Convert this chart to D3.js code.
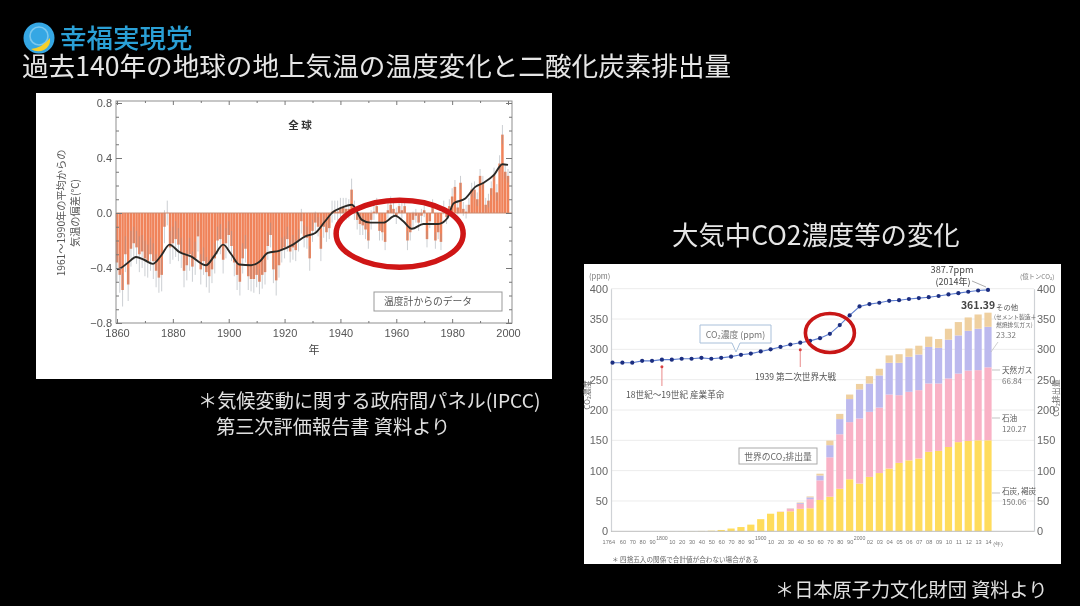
<!DOCTYPE html>
<html lang="ja">
<head>
<meta charset="utf-8">
<title>過去140年の地球の地上気温の温度変化と二酸化炭素排出量</title>
<script src="https://cdn.jsdelivr.net/npm/d3@7"></script>
<style>
html, body { margin: 0; padding: 0; background: #000; overflow: hidden; }
svg { display: block; }
text { font-family: "Noto Sans CJK JP", "Noto Sans", sans-serif; }
.num text, text.num { font-family: "Liberation Sans", Arial, sans-serif; }
</style>
</head>
<body>
<div id="chart"></div>
<script>
// left chart: annual global temperature anomaly, 1860-2000
const tempYears = d3.range(1860, 2001);
const tempValues = [
  -0.36, -0.45, -0.56, -0.30, -0.52, -0.26, -0.22, -0.25, -0.30, -0.28,
  -0.33, -0.35, -0.30, -0.35, -0.42, -0.47, -0.45, -0.10, 0.00, -0.25,
  -0.22, -0.19, -0.23, -0.29, -0.42, -0.38, -0.30, -0.39, -0.33, -0.17,
  -0.41, -0.35, -0.43, -0.46, -0.41, -0.33, -0.20, -0.19, -0.34, -0.22,
  -0.16, -0.24, -0.36, -0.45, -0.50, -0.33, -0.26, -0.46, -0.48, -0.48,
  -0.45, -0.50, -0.45, -0.43, -0.24, -0.16, -0.41, -0.49, -0.38, -0.27,
  -0.25, -0.19, -0.28, -0.25, -0.27, -0.20, -0.06, -0.17, -0.18, -0.33,
  -0.13, -0.07, -0.10, -0.26, -0.10, -0.14, -0.11, 0.01, 0.02, 0.01,
  0.03, 0.04, 0.03, 0.03, 0.17, 0.02, -0.05, -0.08, -0.09, -0.12,
  -0.20, -0.05, 0.01, 0.05, -0.13, -0.14, -0.21, 0.02, 0.06, 0.03,
  -0.02, 0.05, 0.02, 0.05, -0.20, -0.14, -0.05, -0.02, -0.07, -0.02,
  0.02, -0.19, -0.06, 0.05, -0.20, -0.14, -0.21, 0.04, -0.03, 0.05,
  0.12, 0.19, 0.04, 0.22, 0.03, 0.01, 0.06, 0.17, 0.17, 0.10,
  0.27, 0.22, 0.06, 0.09, 0.18, 0.28, 0.15, 0.36, 0.57, 0.30,
  0.27
];
const tempErrors = [
  0.14, 0.13, 0.12, 0.13, 0.12, 0.13, 0.12, 0.12, 0.13, 0.12,
  0.13, 0.12, 0.12, 0.13, 0.12, 0.11, 0.12, 0.12, 0.09, 0.12,
  0.12, 0.13, 0.12, 0.11, 0.12, 0.11, 0.12, 0.11, 0.12, 0.11,
  0.11, 0.10, 0.11, 0.12, 0.10, 0.11, 0.10, 0.11, 0.10, 0.11,
  0.10, 0.11, 0.10, 0.11, 0.10, 0.11, 0.10, 0.10, 0.09, 0.10,
  0.09, 0.09, 0.10, 0.09, 0.10, 0.09, 0.10, 0.11, 0.09, 0.09,
  0.08, 0.09, 0.08, 0.09, 0.08, 0.08, 0.09, 0.08, 0.08, 0.09,
  0.08, 0.08, 0.07, 0.09, 0.08, 0.07, 0.08, 0.08, 0.07, 0.08,
  0.08, 0.07, 0.08, 0.07, 0.08, 0.07, 0.07, 0.08, 0.07, 0.07,
  0.06, 0.07, 0.06, 0.06, 0.07, 0.06, 0.06, 0.06, 0.06, 0.06,
  0.06, 0.05, 0.06, 0.05, 0.07, 0.06, 0.06, 0.05, 0.06, 0.05,
  0.05, 0.06, 0.05, 0.05, 0.06, 0.05, 0.06, 0.05, 0.05, 0.05,
  0.06, 0.05, 0.05, 0.05, 0.05, 0.05, 0.05, 0.05, 0.06, 0.05,
  0.05, 0.05, 0.05, 0.05, 0.05, 0.05, 0.06, 0.06, 0.07, 0.05,
  0.05
];
// smoothed curve
const smoothYears = [1860, 1861.4, 1864, 1866.8, 1869.7, 1872.8, 1875.8, 1878.8, 1882.4, 1886.5,
  1891.9, 1894.9, 1898, 1900.9, 1903.8, 1908, 1911, 1914, 1918, 1923, 1927.4, 1931, 1934.5, 1937.5,
  1940, 1944.1, 1947.7, 1950.7, 1955.4, 1959.6, 1962.5, 1965.6, 1969.7, 1975, 1978.2, 1980.5,
  1984.7, 1988.3, 1991.3, 1994.9, 1998, 2000];
const smoothValues = [-0.41, -0.40, -0.36, -0.32, -0.34, -0.37, -0.31, -0.23, -0.285, -0.315,
  -0.38, -0.31, -0.23, -0.30, -0.375, -0.38, -0.355, -0.29, -0.275, -0.23, -0.17, -0.145, -0.06, 0.01,
  0.035, 0.06, -0.05, -0.07, -0.07, -0.02, -0.06, -0.115, -0.08, -0.08, -0.04, 0.07,
  0.105, 0.19, 0.22, 0.275, 0.355, 0.35];
const tempMajorY = [0.8, 0.4, 0, -0.4, -0.8];
const tempMinorY = [0.7, 0.6, 0.5, 0.3, 0.2, 0.1, -0.1, -0.2, -0.3, -0.5, -0.6, -0.7];
const tempMajorX = [1860, 1880, 1900, 1920, 1940, 1960, 1980, 2000];
const tempMinorX = [1870, 1890, 1910, 1930, 1950, 1970, 1990];

// right chart: CO2 concentration and world emissions
const co2Labels = ["1764", "60", "70", "80", "90", "", "10", "20", "30", "40", "50", "60", "70", "80", "90",
  "", "10", "20", "30", "40", "50", "60", "70", "80", "90",
  "", "02", "03", "04", "05", "06", "07", "08", "09", "10", "11", "12", "13", "14"];
const co2Centuries = [{i: 5, label: "1800"}, {i: 15, label: "1900"}, {i: 25, label: "2000"}];
const co2Ppm = [278, 278, 278, 281, 281, 283, 283, 284.5, 284.5, 286, 284.5, 286, 288, 291, 293, 296.5, 300, 304, 308, 311,
  314, 318.5, 325.6, 340, 356, 370.7, 374.6, 376.8, 380, 381, 383, 384.5, 386, 388, 390.5, 392.7, 395, 397, 398];
const coal = [0, 0, 0, 0, 0, 0.1, 0.2, 0.3, 0.4, 0.6, 1, 2.2, 4.6, 7, 11, 20, 29, 32, 33, 37, 38, 51.7, 57, 70, 85.8,
  78.7, 89.7, 96, 103.4, 112.8, 117, 120, 131, 132.6, 139, 147, 149, 150, 150.06];
const oil = [0, 0, 0, 0, 0, 0, 0, 0, 0, 0, 0, 0, 0, 0, 0, 0, 0, 0.5, 4, 8, 15, 32.3, 65, 90, 94.2,
  107.3, 107.3, 108, 122.1, 111.6, 113, 112.7, 112.7, 111.1, 113, 113, 116, 115.7, 120.27];
const gas = [0, 0, 0, 0, 0, 0, 0, 0, 0, 0, 0, 0, 0, 0, 0, 0, 0, 0, 0.5, 1.5, 3, 8, 20, 25, 38,
  48, 46.7, 53, 52.3, 53.4, 57.7, 58.8, 60.3, 58.8, 64, 63, 65.6, 68.3, 66.84];
const other = [0, 0, 0, 0, 0, 0, 0, 0, 0, 0, 0, 0, 0, 0, 0, 0, 0, 0, 0.5, 1, 1.5, 3, 7.6, 8.6, 7.5,
  9, 12.1, 11, 12.2, 14.2, 13.7, 14.5, 17, 14.5, 18, 22, 22, 23.5, 23.32];
const co2Ticks = [0, 50, 100, 150, 200, 250, 300, 350, 400];
const sourceKeys = ["coal", "oil", "gas", "other"];
const sourceColors = ["#ffdc5c", "#f9b2c6", "#bcb9ee", "#efd0a0"];

const W = 1080, H = 606;
const svg = d3.select("#chart").append("svg")
    .attr("width", W)
    .attr("height", H)
    .attr("viewBox", `0 0 ${W} ${H}`);

const defs = svg.append("defs");
defs.append("filter").attr("id", "soft")
    .attr("filterUnits", "userSpaceOnUse")
    .attr("x", 0).attr("y", 0).attr("width", W).attr("height", H)
  .append("feGaussianBlur").attr("stdDeviation", 0.7);
defs.append("filter").attr("id", "softTitle")
    .attr("filterUnits", "userSpaceOnUse")
    .attr("x", 0).attr("y", 0).attr("width", W).attr("height", H)
  .append("feGaussianBlur").attr("stdDeviation", 0.35);

svg.append("rect").attr("width", W).attr("height", H).attr("fill", "#000");

// heading, logo, captions
const head = svg.append("g").attr("filter", "url(#softTitle)");
head.append("circle").attr("cx", 39).attr("cy", 38).attr("r", 15.5).attr("fill", "#35a7e4");
head.append("circle").attr("cx", 39).attr("cy", 36).attr("r", 9).attr("fill", "none").attr("stroke", "#7cc8ee").attr("stroke-width", 1.6);
head.append("path").attr("d", "M31 49 Q42 48 50 38 Q51 46 44 50 Q37 53 31 49Z").attr("fill", "#f5cf2a");
head.append("text").attr("x", 60).attr("y", 48).attr("font-size", 26.5).attr("font-weight", 500)
    .attr("fill", "#2ba0d6").text("幸福実現党");
head.append("text").attr("x", 22).attr("y", 76).attr("font-size", 26.6).attr("fill", "#e6e6e6")
    .text("過去140年の地球の地上気温の温度変化と二酸化炭素排出量");
head.append("text").attr("x", 672).attr("y", 245).attr("font-size", 26.4).attr("fill", "#e6e6e6")
    .text("大気中CO2濃度等の変化");
const captions = [
  {x: 198, y: 408, t: "＊気候変動に関する政府間パネル(IPCC)"},
  {x: 216, y: 434, t: "第三次評価報告書 資料より"},
  {x: 775, y: 597, t: "＊日本原子力文化財団 資料より"}
];
captions.forEach(c => {
  head.append("text").attr("x", c.x).attr("y", c.y).attr("font-size", 19.2).attr("fill", "#e0e0e0").text(c.t);
});

// ---- left panel ----
const left = svg.append("g").attr("filter", "url(#soft)");
left.append("rect").attr("x", 36).attr("y", 93).attr("width", 516).attr("height", 286).attr("fill", "#fff");

const xT = d3.scaleLinear().domain([1860, 2000]).range([117, 508]);
const yT = d3.scaleLinear().domain([-0.8, 0.8]).range([323, 103]);
const barW = 2.5;

left.selectAll(".tbar").data(tempYears).join("rect")
    .attr("x", d => xT(d) - barW / 2)
    .attr("width", barW)
    .attr("y", (d, i) => yT(Math.max(0, tempValues[i])))
    .attr("height", (d, i) => Math.abs(yT(tempValues[i]) - yT(0)))
    .attr("fill", "#f0835a");

left.selectAll(".terr").data(tempYears).join("line")
    .attr("x1", d => xT(d)).attr("x2", d => xT(d))
    .attr("y1", (d, i) => yT(tempValues[i] - tempErrors[i]))
    .attr("y2", (d, i) => yT(tempValues[i] + tempErrors[i]))
    .attr("stroke", "#8d969e").attr("stroke-width", 0.7).attr("stroke-opacity", 0.65);

left.append("line")
    .attr("x1", xT.range()[0] - 1).attr("x2", 512)
    .attr("y1", yT(0)).attr("y2", yT(0))
    .attr("stroke", "#c98a70").attr("stroke-width", 1);

const smoothLine = d3.line()
    .x(d => xT(d[0]))
    .y(d => yT(d[1]))
    .curve(d3.curveMonotoneX);
left.append("path")
    .datum(smoothYears.map((y, i) => [y, smoothValues[i]]))
    .attr("d", smoothLine)
    .attr("fill", "none").attr("stroke", "#2c2926").attr("stroke-width", 1.9);

// frame and ticks
left.append("rect").attr("x", 116).attr("y", 101).attr("width", 396).attr("height", 222)
    .attr("fill", "none").attr("stroke", "#8f8f8f").attr("stroke-width", 1);

function tempAxis(gen, tx, ty, values, size, fmt) {
  const a = left.append("g").attr("class", "num").attr("transform", `translate(${tx},${ty})`)
      .call(gen.tickValues(values).tickSizeOuter(0).tickSizeInner(size).tickFormat(fmt));
  a.select(".domain").remove();
  a.selectAll("line").attr("stroke", "#777");
  return a;
}
const noLabel = () => "";
const bottomMajor = tempAxis(d3.axisBottom(xT).tickPadding(8), 0, 323, tempMajorX, -4, d3.format("d"));
bottomMajor.selectAll("text").attr("font-size", 11).attr("fill", "#555").attr("dy", "0.5em");
tempAxis(d3.axisBottom(xT), 0, 323, tempMinorX, -2, noLabel);
tempAxis(d3.axisTop(xT), 0, 101, tempMajorX, -4, noLabel);
tempAxis(d3.axisTop(xT), 0, 101, tempMinorX, -2, noLabel);
const leftMajor = tempAxis(d3.axisLeft(yT).tickPadding(4), 116, 0, tempMajorY, -6, d3.format(".1f"));
leftMajor.selectAll("text").attr("font-size", 11).attr("fill", "#555");
tempAxis(d3.axisLeft(yT), 116, 0, tempMinorY, -3, noLabel);
tempAxis(d3.axisRight(yT), 512, 0, tempMajorY, -6, noLabel);
tempAxis(d3.axisRight(yT), 512, 0, tempMinorY, -3, noLabel);

left.append("text").attr("x", 314).attr("y", 354).attr("text-anchor", "middle")
    .attr("font-size", 11).attr("fill", "#444").text("年");
left.append("text").attr("x", 300).attr("y", 129).attr("text-anchor", "middle")
    .attr("font-size", 10.5).attr("font-weight", 700).attr("fill", "#333").text("全  球");
left.append("text").attr("transform", "translate(65,213) rotate(-90)").attr("text-anchor", "middle")
    .attr("font-size", 10.2).attr("fill", "#555").text("1961～1990年の平均からの");
left.append("text").attr("transform", "translate(79,213) rotate(-90)").attr("text-anchor", "middle")
    .attr("font-size", 10.2).attr("fill", "#555").text("気温の偏差(℃)");
left.append("rect").attr("x", 374).attr("y", 292).attr("width", 128).attr("height", 19)
    .attr("fill", "#fff").attr("stroke", "#999").attr("stroke-width", 1);
left.append("text").attr("x", 384).attr("y", 305).attr("font-size", 9.8).attr("fill", "#555").text("温度計からのデータ");

left.append("ellipse")
    .attr("cx", xT(1961.2)).attr("cy", yT(-0.15))
    .attr("rx", 63.5).attr("ry", 33.5)
    .attr("fill", "none").attr("stroke", "#cf1212").attr("stroke-width", 5.5);

// ---- right panel ----
const right = svg.append("g").attr("filter", "url(#soft)");
right.append("rect").attr("x", 584).attr("y", 264).attr("width", 477).attr("height", 300).attr("fill", "#fff");

const xC = d3.scalePoint().domain(d3.range(co2Labels.length)).range([612.5, 988]);
const yC = d3.scaleLinear().domain([0, 400]).range([531.3, 288.7]);

right.selectAll(".grid").data(co2Ticks.slice(1)).join("line")
    .attr("x1", 611).attr("x2", 1034)
    .attr("y1", d => yC(d)).attr("y2", d => yC(d))
    .attr("stroke", "#ececec").attr("stroke-width", 1);

const rows = co2Labels.map((l, i) => ({i: i, coal: coal[i], oil: oil[i], gas: gas[i], other: other[i]}));
const stacked = d3.stack().keys(sourceKeys)(rows);
const colW = 7.2;
right.selectAll(".layer").data(stacked).join("g")
    .attr("fill", (d, i) => sourceColors[i])
  .selectAll("rect").data(d => d).join("rect")
    .attr("x", d => xC(d.data.i) - colW / 2)
    .attr("width", colW)
    .attr("y", d => yC(d[1]))
    .attr("height", d => yC(d[0]) - yC(d[1]));

// axes
const axL = right.append("g").attr("class", "num").attr("transform", "translate(611,0)")
    .call(d3.axisLeft(yC).tickValues(co2Ticks).tickSize(0).tickPadding(3));
const axR = right.append("g").attr("class", "num").attr("transform", "translate(1034,0)")
    .call(d3.axisRight(yC).tickValues(co2Ticks).tickSize(0).tickPadding(3));
[axL, axR].forEach(a => {
  a.select(".domain").attr("stroke", "#cfd2d6").attr("stroke-width", 1.2);
  a.selectAll("text").attr("font-size", 11).attr("fill", "#666");
});
right.append("line").attr("x1", 611).attr("x2", 1034).attr("y1", yC(0)).attr("y2", yC(0))
    .attr("stroke", "#bdbdbd").attr("stroke-width", 1);

const axB = right.append("g").attr("class", "num").attr("transform", `translate(0,${yC(0)})`)
    .call(d3.axisBottom(xC).tickSize(0).tickPadding(9).tickFormat(i => co2Labels[i]));
axB.select(".domain").remove();
axB.selectAll("text").attr("font-size", 5.6).attr("fill", "#777");
axB.selectAll(".tick").filter(i => i === 0).select("text").attr("text-anchor", "end").attr("dx", 2);
co2Centuries.forEach(c => {
  right.append("text").attr("class", "num").attr("x", xC(c.i)).attr("y", 540)
      .attr("text-anchor", "middle").attr("font-size", 5.2).attr("fill", "#777").text(c.label);
});
right.append("text").attr("class", "num").attr("x", 998).attr("y", 546).attr("text-anchor", "middle")
    .attr("font-size", 5.6).attr("fill", "#777").text("(年)");

// concentration line
const ppmLine = d3.line().x((d, i) => xC(i)).y(d => yC(d));
right.append("path").datum(co2Ppm).attr("d", ppmLine)
    .attr("fill", "none").attr("stroke", "#5f7fd0").attr("stroke-width", 1.1);
right.selectAll(".ppm").data(co2Ppm).join("circle")
    .attr("cx", (d, i) => xC(i))
    .attr("cy", d => yC(d))
    .attr("r", 2.1)
    .attr("fill", "#1d2f80");

// labels
function rLabel(x, y, t, size, fill, weight, anchor) {
  right.append("text").attr("x", x).attr("y", y).attr("font-size", size).attr("fill", fill || "#555")
      .attr("font-weight", weight || 400).attr("text-anchor", anchor || "start").text(t);
}
rLabel(589, 279, "(ppm)", 7.5, "#777");
rLabel(1020, 279, "(億トンCO₂)", 6.4, "#777");
right.append("text").attr("transform", "translate(590,395) rotate(-90)").attr("text-anchor", "middle")
    .attr("font-size", 8).attr("fill", "#666").text("CO₂濃度");
right.append("text").attr("transform", "translate(1059,398) rotate(-90)").attr("text-anchor", "middle")
    .attr("font-size", 8).attr("fill", "#666").text("CO₂排出量");

rLabel(626, 398, "18世紀～19世紀 産業革命", 8.6, "#555");
rLabel(755, 380, "1939 第二次世界大戦", 8.6, "#555");
const arrows = [[5, 386], [19, 367]];
arrows.forEach(a => {
  const ax = xC(a[0]), ay = yC(co2Ppm[a[0]]);
  right.append("line").attr("x1", ax).attr("x2", ax).attr("y1", ay + 7).attr("y2", a[1])
      .attr("stroke", "#e98a8a").attr("stroke-width", 1);
  right.append("circle").attr("cx", ax).attr("cy", ay + 7).attr("r", 1.5).attr("fill", "#d84040");
});

right.append("path")
    .attr("d", "M700 325H771V343H740L736 352L732 343H700Z")
    .attr("fill", "#fff").attr("stroke", "#a9c0da").attr("stroke-width", 1);
rLabel(735.5, 337.5, "CO₂濃度 (ppm)", 8.8, "#777", 400, "middle");
right.append("rect").attr("x", 739).attr("y", 448).attr("width", 78).attr("height", 16)
    .attr("fill", "#fff").attr("stroke", "#aaa").attr("stroke-width", 1);
rLabel(778, 459.5, "世界のCO₂排出量", 8.8, "#666", 400, "middle");

rLabel(952, 273, "387.7ppm", 9.2, "#444", 400, "middle");
rLabel(953, 285, "(2014年)", 9, "#444", 400, "middle");
right.append("line").attr("x1", 972).attr("y1", 281).attr("x2", 986).attr("y2", 287)
    .attr("stroke", "#888").attr("stroke-width", 0.7);
rLabel(978, 309, "361.39", 10.4, "#444", 700, "middle");

rLabel(996, 310, "その他", 7.4, "#555");
rLabel(994, 319, "(セメント製造＋", 5.8, "#666");
rLabel(996, 327, "燃焼排気ガス)", 5.8, "#666");
rLabel(996, 338, "23.32", 8, "#777", 400);
rLabel(1002, 373, "天然ガス", 7.6, "#555");
rLabel(1002, 384, "66.84", 8, "#777");
rLabel(1002, 421, "石油", 7.6, "#555");
rLabel(1002, 432, "120.27", 8, "#777");
rLabel(1002, 494, "石炭, 褐炭", 7.6, "#555");
rLabel(1002, 505, "150.06", 8, "#777");
[[992, 1000, 418], [992, 1000, 493], [992, 1000, 370]].forEach(s => {
  right.append("line").attr("x1", s[0]).attr("x2", s[1]).attr("y1", s[2]).attr("y2", s[2])
      .attr("stroke", "#aaa").attr("stroke-width", 0.7);
});
right.append("line").attr("x1", 991).attr("y1", 352).attr("x2", 998).attr("y2", 342)
    .attr("stroke", "#bbb").attr("stroke-width", 0.7);
rLabel(612, 562, "＊ 四捨五入の関係で合計値が合わない場合がある", 6.6, "#666");

right.append("ellipse")
    .attr("cx", xC(22)).attr("cy", yC(327))
    .attr("rx", 24.5).attr("ry", 19.5)
    .attr("fill", "none").attr("stroke", "#c81414").attr("stroke-width", 3.6);
</script>
</body>
</html>
